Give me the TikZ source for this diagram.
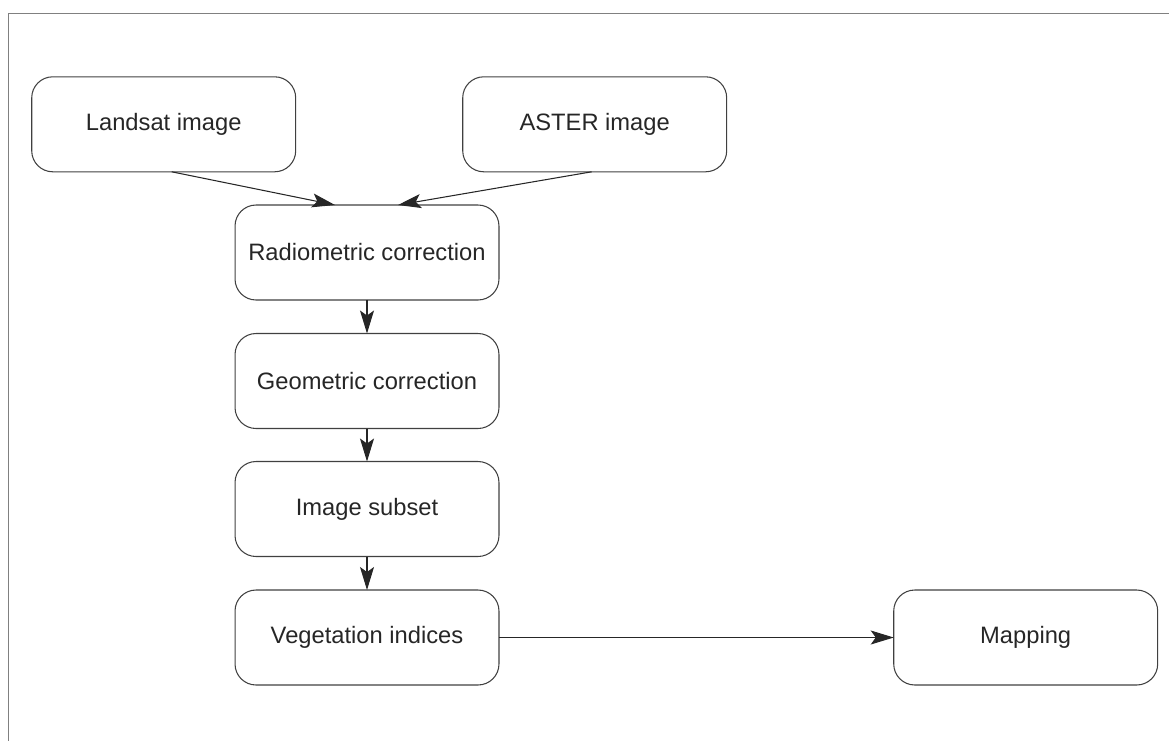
\documentclass[tikz,border=0pt]{standalone}
\usepackage{fontspec}
\setmainfont{Liberation Sans}
\usepackage{tikz}
\usetikzlibrary{arrows.meta}

\tikzset{
  procbox/.style={draw=black!75, line width=0.6pt, rounded corners=0.42cm,
    minimum width=5.28cm, minimum height=1.9cm, inner sep=0pt, outer sep=0pt,
    font=\fontsize{13.5}{16}\selectfont, text=black!85},
  flow/.style={draw=black!85, line width=0.6pt,
    -{Stealth[length=0.46cm,width=0.28cm,inset=0.1cm]}}
}

\begin{document}
\begin{tikzpicture}[x=0.02cm,y=-0.02cm]
  \useasboundingbox (0,0) rectangle (1169,741);
  \draw[black!50, line width=1.1pt] (1169,13.5) -- (8.5,13.5) -- (8.5,741);

  \node[procbox] (landsat) at (163.7,124.3) {Landsat image};
  \node[procbox] (aster)   at (594.7,124.3) {ASTER image};
  \node[procbox] (radio)   at (367,252.5) {Radiometric correction};
  \node[procbox] (geo)     at (367,381) {Geometric correction};
  \node[procbox] (subset)  at (367,509) {Image subset};
  \node[procbox] (veg)     at (367,637.5) {Vegetation indices};
  \node[procbox] (mapping) at (1025.7,637.5) {Mapping};

  \draw[flow] ([xshift=0.16cm]landsat.south) -- ([xshift=-0.64cm]radio.north);
  \draw[flow] ([xshift=-0.06cm]aster.south) -- ([xshift=0.62cm]radio.north);
  \draw[flow] (radio) -- (geo);
  \draw[flow] (geo) -- (subset);
  \draw[flow] (subset) -- (veg);
  \draw[flow] (veg) -- (mapping);
\end{tikzpicture}
\end{document}
